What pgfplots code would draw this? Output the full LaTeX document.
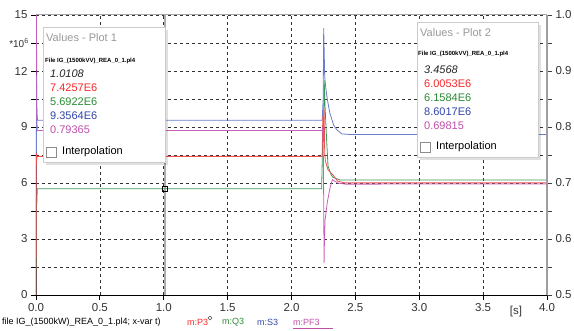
\documentclass[border=0pt]{standalone}
\usepackage{pgfplots}
\pgfplotsset{compat=1.18}
\usepackage{fontspec}
\setmainfont{Liberation Sans}
\definecolor{cP}{RGB}{238,80,80}
\definecolor{cQ}{RGB}{60,150,90}
\definecolor{cS}{RGB}{105,125,205}
\definecolor{cPF}{RGB}{200,95,185}
\definecolor{tP}{RGB}{250,40,40}
\definecolor{tQ}{RGB}{40,140,50}
\definecolor{tS}{RGB}{50,70,170}
\definecolor{tPF}{RGB}{190,80,170}
\definecolor{gridc}{RGB}{50,50,50}
\begin{document}
\begin{tikzpicture}
\pgfplotsset{
  base/.style={
    scale only axis, width=511pt, height=280pt,
    xmin=0, xmax=4,
    tick label style={font=\fontsize{11.5}{13}\selectfont, text=black!80},
    /pgf/number format/assume math mode=true,
    tick align=outside,
    major tick length=5pt, minor tick length=5pt,
  }
}
\begin{axis}[base,
  ymin=0, ymax=15,
  axis x line*=bottom, axis y line*=left,
  axis line style={black, line width=0.8pt, -},
  xtick={0,0.5,...,4}, 
  xticklabels={0.0,0.5,1.0,1.5,2.0,2.5,3.0,3.5,4.0},
  ytick={0,3,6,9,12,15},
  minor ytick={1.5,4.5,7.5,10.5,13.5},
  xmajorgrids, ymajorgrids, yminorgrids,
  major grid style={gridc, dash pattern=on 3pt off 3pt, line width=0.6pt},
  minor grid style={gridc, dash pattern=on 3pt off 3pt, line width=0.6pt},
  tick style={black, line width=0.8pt},
]
% top border and cursor
\addplot[gray!70, line width=1pt] coordinates {(0,15) (4,15)};
\addplot[gray!65, line width=1.3pt] coordinates {(1.0108,0) (1.0108,15)};
% S3
\addplot[cS, line width=0.8pt] coordinates {
(0,0) (0.002,5) (0.004,11.8) (0.007,9.8) (0.012,9.3564) (1.0108,9.3564) (2.24,9.3564)
(2.248,10.5) (2.252,14.3) (2.256,13.0) (2.26,11.7) (2.27,11.0) (2.28,10.5) (2.30,9.75)
(2.33,9.1) (2.356,8.84) (2.395,8.63) (2.45,8.6017) (4.0,8.6017)};
% Q3
\addplot[cQ, line width=0.8pt] coordinates {
(0,0) (0.003,5.2) (0.006,4.8) (0.01,5.6922) (2.236,5.6922) (2.24,7.0) (2.246,9.0)
(2.25,8.5) (2.256,11.5) (2.262,10.2) (2.275,8.3) (2.286,6.9) (2.31,6.45) (2.325,6.3)
(2.38,6.16) (4.0,6.1584)};
% P3
\addplot[cP, line width=0.8pt] coordinates {
(0,0) (0.003,7.6) (0.006,7.3) (0.01,7.4257) (2.24,7.4257) (2.245,9.6) (2.25,8.2)
(2.255,10.0) (2.26,7.6) (2.265,7.2) (2.286,6.7) (2.325,6.43) (2.36,6.1) (2.42,6.0053)
(4.0,6.0053)};
% cursor marker
\addplot[only marks, mark=square, mark size=2.5pt, black, line width=0.8pt] coordinates {(1.0108,5.6922)};
\end{axis}
\begin{axis}[base,
  ymin=0.5, ymax=1.0,
  axis x line=none, axis y line*=right,
  axis line style={gray!75, line width=1.6pt, -},
  ytick={0.5,0.6,...,1.0},
  yticklabels={0.5,0.6,0.7,0.8,0.9,1.0},
  minor ytick={0.55,0.65,0.75,0.85,0.95},
  tick style={gray!50!black, line width=0.8pt},
]
\addplot[cPF, line width=0.8pt] coordinates {
(0,1.0) (0.004,1.0) (0.006,0.82) (0.01,0.79365) (2.24,0.79365) (2.245,0.80) (2.25,0.74)
(2.255,0.557) (2.258,0.60) (2.263,0.634) (2.28,0.665) (2.30,0.69) (2.32,0.706) (2.36,0.70)
(2.42,0.698) (4.0,0.69815)};
\end{axis}
% annotations
\node[font=\fontsize{10}{12}\selectfont, text=black!80] at (-17pt,252pt) {*10\textsuperscript{6}};
\node[font=\fontsize{11.5}{13}\selectfont, text=black!80] at (480pt,-17pt) {[s]};
% value box 1
\fill[black, opacity=0.12] (10pt,130pt) rectangle (132pt,265pt);
\fill[white, draw=black!20] (7pt,133pt) rectangle (129pt,268pt);
\node[anchor=west, font=\fontsize{11}{13}\selectfont, text=black!40, inner sep=0] at (10pt,257pt) {Values - Plot 1};
\node[anchor=west, font=\fontsize{6}{7}\selectfont\bfseries, inner sep=0] at (9pt,234pt) {File IG\_(1500kVV)\_REA\_0\_1.pl4};
\begin{scope}[every node/.style={anchor=west, font=\fontsize{11}{13}\selectfont, inner sep=0}]
\node[text=black!85, font=\fontsize{11}{13}\selectfont\itshape] at (14pt,221pt) {1.0108};
\node[text=tP] at (14pt,207pt) {7.4257E6};
\node[text=tQ] at (14pt,193pt) {5.6922E6};
\node[text=tS] at (14pt,179pt) {9.3564E6};
\node[text=tPF] at (14pt,165pt) {0.79365};
\node[text=black] at (26pt,143pt) {Interpolation};
\end{scope}
\draw[black!45, fill=white] (10pt,138pt) rectangle (20pt,148pt);
% value box 2
\fill[black, opacity=0.12] (384pt,135pt) rectangle (505pt,270pt);
\fill[white, draw=black!20] (381pt,138pt) rectangle (502pt,273pt);
\node[anchor=west, font=\fontsize{11}{13}\selectfont, text=black!40, inner sep=0] at (384pt,262pt) {Values - Plot 2};
\node[anchor=west, font=\fontsize{6}{7}\selectfont\bfseries, inner sep=0] at (382pt,241pt) {File IG\_(1500kVV)\_REA\_0\_1.pl4};
\begin{scope}[every node/.style={anchor=west, font=\fontsize{11}{13}\selectfont, inner sep=0}]
\node[text=black!85, font=\fontsize{11}{13}\selectfont\itshape] at (388pt,225pt) {3.4568};
\node[text=tP] at (388pt,211pt) {6.0053E6};
\node[text=tQ] at (388pt,197pt) {6.1584E6};
\node[text=tS] at (388pt,183pt) {8.6017E6};
\node[text=tPF] at (388pt,169pt) {0.69815};
\node[text=black] at (400pt,148pt) {Interpolation};
\end{scope}
\draw[black!45, fill=white] (384pt,143pt) rectangle (394pt,153pt);
% bottom legend line
\begin{scope}[every node/.style={anchor=west, font=\fontsize{9}{11}\selectfont, inner sep=0}]
\node[text=black] at (-34pt,-27pt) {file IG\_(1500kW)\_REA\_0\_1.pl4; x-var t)};
\node[text=tP] at (151pt,-27pt) {m:P3};
\node[text=tQ] at (186pt,-27pt) {m:Q3};
\node[text=tS] at (221pt,-27pt) {m:S3};
\node[text=tPF] at (257pt,-27pt) {m:PF3};
\end{scope}
\draw[black!70, line width=0.5pt] (172pt,-23pt) -- (174pt,-21pt) -- (176pt,-23pt) -- (174pt,-25pt) -- cycle;
\draw[tPF, line width=0.6pt] (257pt,-33pt) -- (297pt,-33pt);
\pgfresetboundingbox
\path[use as bounding box] (-36pt,-36pt) rectangle (538pt,295pt);
\end{tikzpicture}
\end{document}
